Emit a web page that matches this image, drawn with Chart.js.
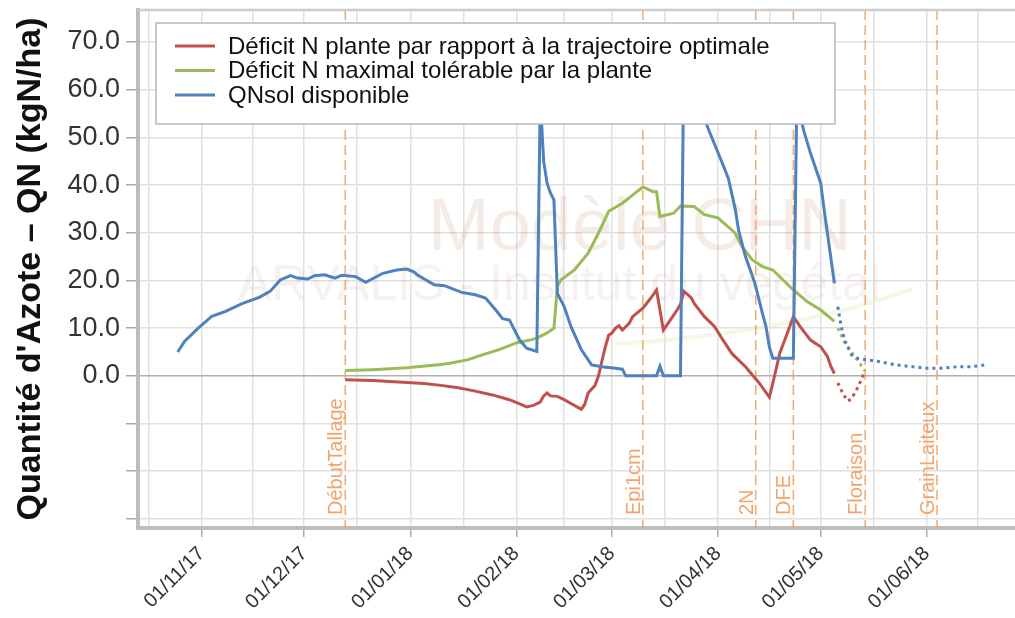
<!DOCTYPE html>
<html>
<head>
<meta charset="utf-8">
<script src="https://cdn.jsdelivr.net/npm/chart.js@4.4.0/dist/chart.umd.min.js"></script>
<style>
  html, body { margin: 0; padding: 0; background: #fff; }
</style>
</head>
<body>
<canvas id="chnChart" width="1015" height="618"></canvas>
<script>
/** data: [date, kgN/ha] **/
var deficitPlante = [
  ['2017-12-13',-0.8],['2017-12-21',-1.0],['2017-12-26',-1.2],['2017-12-31',-1.4],['2018-01-05',-1.6],
  ['2018-01-10',-2.0],['2018-01-15',-2.5],['2018-01-20',-3.2],['2018-01-25',-4.0],['2018-01-30',-5.0],
  ['2018-02-02',-5.9],['2018-02-04',-6.5],['2018-02-06',-6.2],['2018-02-08',-5.5],['2018-02-09',-4.2],
  ['2018-02-10',-3.6],['2018-02-11',-4.2],['2018-02-13',-4.3],['2018-02-15',-5.0],['2018-02-17',-5.8],
  ['2018-02-19',-6.6],['2018-02-20',-7.0],['2018-02-21',-6.0],['2018-02-22',-3.6],['2018-02-24',-2.0],
  ['2018-02-25',-0.1],['2018-02-26',3.0],['2018-02-27',6.0],['2018-02-28',8.5],['2018-03-01',9.0],
  ['2018-03-02',10.0],['2018-03-03',10.5],['2018-03-04',9.6],['2018-03-06',11.0],['2018-03-07',12.4],
  ['2018-03-10',14.2],['2018-03-12',16.0],['2018-03-14',18.0],['2018-03-16',9.6],['2018-03-18',11.7],
  ['2018-03-20',13.8],['2018-03-21',15.0],['2018-03-22',17.7],['2018-03-24',16.5],['2018-03-25',15.2],
  ['2018-03-28',12.4],['2018-03-31',10.3],['2018-04-02',8.0],['2018-04-05',4.7],['2018-04-09',1.9],
  ['2018-04-13',-1.5],['2018-04-16',-4.5],['2018-04-17',-1.5],['2018-04-18',1.5],['2018-04-19',4.7],
  ['2018-04-21',8.5],['2018-04-23',12.4],['2018-04-25',10.3],['2018-04-28',7.5],['2018-05-01',6.1],
  ['2018-05-03',4.0],['2018-05-04',1.9],['2018-05-05',0.5]
];
var deficitPlantePrev = [
  ['2018-05-06',-1.5],['2018-05-07',-3.0],['2018-05-08',-4.3],['2018-05-09',-5.3],['2018-05-10',-4.8],
  ['2018-05-11',-3.5],['2018-05-12',-2.2],['2018-05-13',-0.5],['2018-05-14',1.0]
];
var deficitMax = [
  ['2017-12-13',1.1],['2017-12-21',1.3],['2017-12-31',1.7],['2018-01-03',1.9],['2018-01-10',2.4],
  ['2018-01-13',2.7],['2018-01-18',3.4],['2018-01-22',4.4],['2018-01-27',5.5],['2018-02-01',6.9],
  ['2018-02-05',7.5],['2018-02-07',7.9],['2018-02-10',9.0],['2018-02-12',10.0],['2018-02-13',18.7],
  ['2018-02-14',20.1],['2018-02-18',22.2],['2018-02-22',25.7],['2018-02-25',29.9],['2018-02-28',34.5],
  ['2018-03-04',36.2],['2018-03-07',37.9],['2018-03-10',39.6],['2018-03-13',38.6],['2018-03-14',38.6],
  ['2018-03-15',33.4],['2018-03-19',34.1],['2018-03-21',35.6],['2018-03-25',35.5],['2018-03-28',33.8],
  ['2018-04-01',33.1],['2018-04-06',29.9],['2018-04-08',27.1],['2018-04-11',24.3],['2018-04-14',22.9],
  ['2018-04-17',22.2],['2018-04-20',20.1],['2018-04-23',18.0],['2018-04-27',15.6],['2018-05-01',13.8],
  ['2018-05-05',11.4]
];
var deficitMaxPrev = [
  ['2018-05-06',10.0],['2018-05-08',7.0],['2018-05-10',5.0],['2018-05-12',3.0],['2018-05-14',1.0]
];
var qnSol = [
  ['2017-10-25',5.0],['2017-10-27',7.2],['2017-10-31',10.0],['2017-11-04',12.5],['2017-11-08',13.5],
  ['2017-11-13',15.2],['2017-11-18',16.5],['2017-11-21',17.7],['2017-11-24',20.1],['2017-11-27',21.0],
  ['2017-11-29',20.5],['2017-12-02',20.3],['2017-12-04',21.0],['2017-12-07',21.2],['2017-12-10',20.5],
  ['2017-12-12',21.1],['2017-12-16',20.8],['2017-12-19',19.6],['2017-12-24',21.5],['2017-12-28',22.2],
  ['2017-12-31',22.4],['2018-01-02',21.8],['2018-01-03',21.2],['2018-01-08',19.1],['2018-01-11',18.9],
  ['2018-01-16',17.5],['2018-01-20',17.0],['2018-01-23',16.3],['2018-01-26',13.8],['2018-01-28',12.0],
  ['2018-01-30',11.7],['2018-02-02',7.5],['2018-02-04',5.8],['2018-02-07',5.1],['2018-02-08',58],
  ['2018-02-09',45],['2018-02-10',40.4],['2018-02-11',38.3],['2018-02-12',36.9],['2018-02-13',17.3],
  ['2018-02-15',14.5],['2018-02-17',10.3],['2018-02-20',5.5],['2018-02-23',2.3],['2018-02-26',1.9],
  ['2018-03-02',1.6],['2018-03-04',1.4],['2018-03-05',0],['2018-03-14',0],['2018-03-15',2.0],
  ['2018-03-16',0],['2018-03-21',0],['2018-03-22',68],['2018-03-25',60],['2018-03-27',56],
  ['2018-03-29',52],['2018-03-31',48.5],['2018-04-02',45],['2018-04-04',41.4],['2018-04-06',35],
  ['2018-04-07',30.5],['2018-04-09',25],['2018-04-11',21],['2018-04-12',18.7],['2018-04-14',13],
  ['2018-04-15',10.3],['2018-04-16',6],['2018-04-17',3.7],['2018-04-23',3.7],['2018-04-24',58],
  ['2018-04-26',51.5],['2018-04-28',46.7],['2018-05-01',40.4],['2018-05-02',34.8],['2018-05-05',19.4]
];
var qnSolPrev = [
  ['2018-05-06',14.5],['2018-05-07',10.3],['2018-05-08',7.5],['2018-05-10',4.4],['2018-05-12',3.6],
  ['2018-05-14',3.4],['2018-05-18',3.0],['2018-05-23',2.3],['2018-05-28',1.9],['2018-06-01',1.6],
  ['2018-06-05',1.6],['2018-06-10',1.9],['2018-06-14',1.9],['2018-06-18',2.3]
];

var stageNames = ['DébutTallage', 'Epi1cm', '2N', 'DFE', 'Floraison', 'GrainLaiteux'];
var stageDates = ['2017-12-13', '2018-03-10', '2018-04-12', '2018-04-23', '2018-05-14', '2018-06-04'];

var xTickLabels = ['01/11/17', '01/12/17', '01/01/18', '01/02/18', '01/03/18', '01/04/18', '01/05/18', '01/06/18'];
var yTickValues = [-30, -20, -10, 0, 10, 20, 30, 40, 50, 60, 70];

var legendLabels = ['Déficit N plante par rapport à la trajectoire optimale',
                    'Déficit N maximal tolérable par la plante',
                    'QNsol disponible'];

var RED = '#C0504D', GREEN = '#9BBB59', BLUE = '#4F81BD';
var FONT = '"Liberation Sans", Arial, sans-serif';

/** days since 01/11/17 **/
var BASE = Date.UTC(2017, 10, 1);
function dayOf(s) {
    var p = s.split('-').map(Number);
    return (Date.UTC(p[0], p[1] - 1, p[2]) - BASE) / 864e5;
}
function dayOfLabel(s) {
    var p = s.split('/').map(Number);
    return (Date.UTC(2000 + p[2], p[1] - 1, p[0]) - BASE) / 864e5;
}
function toPoints(arr) {
    return arr.map(function (r) { return {x: dayOf(r[0]), y: r[1]}; });
}

// month ticks (labelled) and mid-month grid lines
var monthDays = xTickLabels.map(dayOfLabel);
var labelByDay = {};
monthDays.forEach(function (d, i) { labelByDay[d] = xTickLabels[i]; });
var allMonths = [dayOfLabel('01/10/17')].concat(monthDays, [dayOfLabel('01/07/18')]);
var xTicks = [];
for (var i = 0; i < allMonths.length - 1; i++) {
    if (i > 0) xTicks.push(allMonths[i]);
    xTicks.push((allMonths[i] + allMonths[i + 1]) / 2);
}
var yTicks = [];
yTickValues.forEach(function (v) { yTicks.push(v); if (v < 70) yTicks.push(v + 5); });
yTicks.push(75);

function lineSet(label, arr, color, dotted, order) {
    return {
        label: label,
        data: toPoints(arr),
        borderColor: color,
        backgroundColor: color,
        borderWidth: 3,
        borderDash: dotted ? [3, 4] : [],
        pointRadius: 0,
        tension: 0,
        fill: false,
        order: order
    };
}

/** watermark, stage lines, frame and legend **/
var decorPlugin = {
    id: 'decor',
    beforeDatasetsDraw: function (chart) {
        var ctx = chart.ctx, a = chart.chartArea, x = chart.scales.x;
        ctx.save();
        ctx.beginPath();
        ctx.rect(a.left, a.top, a.right - a.left, a.bottom - a.top);
        ctx.clip();

        ctx.fillStyle = 'rgba(200,150,130,0.18)';
        ctx.font = '74px ' + FONT;
        ctx.fillText('Modèle CHN', 428, 250);
        ctx.font = '50px ' + FONT;
        ctx.fillStyle = 'rgba(200,160,145,0.15)';
        ctx.fillText('ARVALIS - Institut du végétal', 238, 300);

        ctx.strokeStyle = 'rgba(225,235,180,0.35)';
        ctx.lineWidth = 4;
        ctx.beginPath();
        ctx.moveTo(615, 344);
        ctx.quadraticCurveTo(790, 333, 912, 289);
        ctx.stroke();

        stageDates.forEach(function (d, i) {
            var px = x.getPixelForValue(dayOf(d));
            ctx.strokeStyle = 'rgba(244,160,90,0.9)';
            ctx.lineWidth = 1.5;
            ctx.setLineDash([10, 5]);
            ctx.beginPath();
            ctx.moveTo(px, a.top);
            ctx.lineTo(px, a.bottom);
            ctx.stroke();
            ctx.setLineDash([]);
            ctx.save();
            ctx.translate(px - 3, a.bottom - 13);
            ctx.rotate(-Math.PI / 2);
            ctx.fillStyle = '#F2A46A';
            ctx.font = '20px ' + FONT;
            ctx.textAlign = 'left';
            ctx.textBaseline = 'alphabetic';
            ctx.fillText(stageNames[i], 0, 0);
            ctx.restore();
        });
        ctx.restore();
    },
    afterDraw: function (chart) {
        var ctx = chart.ctx, a = chart.chartArea;
        ctx.save();
        ctx.strokeStyle = '#cccccc';
        ctx.lineWidth = 2.5;
        ctx.beginPath();
        ctx.moveTo(a.left, a.top);
        ctx.lineTo(a.right, a.top);
        ctx.stroke();

        ctx.fillStyle = '#fff';
        ctx.fillRect(156, 23, 679, 101);
        ctx.strokeStyle = '#b8b8b8';
        ctx.lineWidth = 1.5;
        ctx.strokeRect(156, 23, 679, 101);

        var colors = [RED, GREEN, BLUE];
        ctx.font = '24px ' + FONT;
        ctx.textBaseline = 'middle';
        ctx.textAlign = 'left';
        legendLabels.forEach(function (t, i) {
            var ly = 46 + i * 24.5;
            ctx.strokeStyle = colors[i];
            ctx.lineWidth = 3;
            ctx.beginPath();
            ctx.moveTo(175, ly);
            ctx.lineTo(215, ly);
            ctx.stroke();
            ctx.fillStyle = '#111';
            ctx.fillText(t, 228, ly + 1);
        });
        ctx.restore();
    }
};

var ctx = document.getElementById('chnChart').getContext('2d');
new Chart(ctx, {
    type: 'line',
    data: {
        datasets: [
            lineSet(legendLabels[2], qnSol, BLUE, false, 0),
            lineSet(legendLabels[2], qnSolPrev, BLUE, true, 1),
            lineSet(legendLabels[1], deficitMax, GREEN, false, 2),
            lineSet(legendLabels[1], deficitMaxPrev, GREEN, true, 3),
            lineSet(legendLabels[0], deficitPlante, RED, false, 4),
            lineSet(legendLabels[0], deficitPlantePrev, RED, true, 5)
        ]
    },
    options: {
        responsive: false,
        animation: false,
        layout: {padding: {top: 10, right: 0, bottom: 0, left: 0}},
        plugins: {legend: {display: false}, tooltip: {enabled: false}},
        scales: {
            x: {
                type: 'linear',
                min: -18.6,
                max: 237.8,
                afterFit: function (scale) {
                    scale.height = 90;
                    scale.paddingLeft = 0;
                    scale.paddingRight = 0;
                },
                afterBuildTicks: function (scale) {
                    scale.ticks = xTicks.map(function (v) { return {value: v}; });
                },
                ticks: {
                    autoSkip: false,
                    maxRotation: 45,
                    minRotation: 45,
                    padding: 5,
                    color: '#333',
                    font: {family: FONT, size: 20},
                    callback: function (v) { return labelByDay[v] || ''; }
                },
                grid: {
                    color: '#e0e0e0',
                    lineWidth: 1.5,
                    tickLength: 9,
                    tickWidth: 1.5,
                    tickColor: function (c) { return labelByDay[c.tick.value] ? '#aaa' : 'rgba(0,0,0,0)'; }
                },
                border: {display: true, color: '#bdbdbd', width: 4}
            },
            y: {
                type: 'linear',
                min: -31.9,
                max: 76.7,
                afterFit: function (scale) {
                    scale.width = 138;
                    scale.paddingTop = 0;
                    scale.paddingBottom = 0;
                },
                afterBuildTicks: function (scale) {
                    scale.ticks = yTicks.map(function (v) { return {value: v}; });
                },
                ticks: {
                    padding: 6,
                    color: '#333',
                    font: {family: FONT, size: 27},
                    callback: function (v) { return (v >= 0 && v % 10 === 0) ? v.toFixed(1) : ''; }
                },
                grid: {
                    color: function (c) { return c.tick.value === 0 ? '#b0b0b0' : '#e0e0e0'; },
                    lineWidth: 1.5,
                    tickLength: 12,
                    tickWidth: 1.5,
                    tickColor: function (c) { return c.tick.value % 10 === 0 ? '#aaa' : 'rgba(0,0,0,0)'; }
                },
                border: {display: true, color: '#bdbdbd', width: 4},
                title: {
                    display: true,
                    text: "Quantité d'Azote – QN (kgN/ha)",
                    color: '#111',
                    font: {family: FONT, size: 34, weight: 'bold'},
                    padding: {top: 10, bottom: 0}
                }
            }
        }
    },
    plugins: [decorPlugin]
});
</script>
</body>
</html>
